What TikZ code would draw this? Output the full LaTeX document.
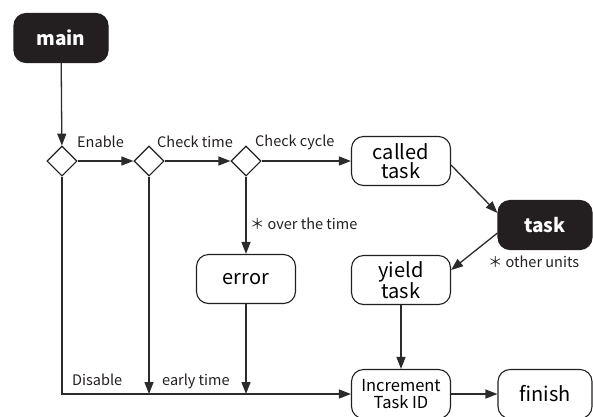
\documentclass[tikz,border=0pt]{standalone}
\usepackage{fontspec}
\setmainfont{Noto Sans CJK JP}
\usetikzlibrary{arrows.meta,shapes.geometric,calc}
\definecolor{ink}{HTML}{231F20}
\definecolor{wire}{HTML}{2B2B2B}
\begin{document}
\begin{tikzpicture}[x=1pt,y=-1pt,
  box/.style={draw=ink, line width=1.1pt, rounded corners=12pt, minimum width=99pt,
    minimum height=49pt, align=center, inner sep=2pt,
    font=\fontsize{20}{19}\selectfont},
  darkbox/.style={box, fill=ink, text=white, minimum width=94pt,
    font=\fontsize{19}{19}\selectfont\bfseries},
  decision/.style={diamond, draw=ink, line width=1.1pt, minimum width=30pt,
    minimum height=30pt, inner sep=0pt},
  lbl/.style={font=\fontsize{14.5}{14}\selectfont, inner sep=0pt, text=ink},
  arr/.style={draw=wire, line width=1.3pt, -{Triangle[length=12pt,width=9pt]}}
]
\useasboundingbox (0,0) rectangle (593,416);

% nodes
\node[darkbox] (main) at (61,38) {main};
\node[decision] (d1) at (62,161) {};
\node[decision] (d2) at (149,161) {};
\node[decision] (d3) at (246,161) {};
\node[box] (called) at (401,161) {called\\task};
\node[darkbox] (task) at (545,225) {task};
\node[box] (yield) at (401,280) {yield\\task};
\node[box] (error) at (246,279) {error};
\node[box, font=\fontsize{16.5}{17}\selectfont] (incr) at (401,394) {Increment\\Task ID};
\node[box, minimum width=94pt] (finish) at (545,394) {finish};

\coordinate (j2) at (149,394);
\coordinate (j3) at (246,394);

% labels
\node[lbl, anchor=base west] (lenable) at (77,147.5) {Enable};
\node[lbl, anchor=base west] (ltime) at (157,147) {Check time};
\node[lbl, anchor=base west] (lcycle) at (255,146) {Check cycle};
\node[lbl, anchor=base west] (lover) at (250,229) {＊\hspace{3pt}over the time};
\node[lbl, anchor=base west] (lother) at (488,267) {＊\hspace{3pt}other units};
\node[lbl, anchor=base west] (ldis) at (72,385) {Disable};
\node[lbl, anchor=base west] (learly) at (162,385) {early time};

% connectors
\draw[arr] (main) -- (d1);
\draw[arr] (d1) -- (d2);
\draw[arr] (d2) -- (d3);
\draw[arr] (d3) -- (called);
\draw[arr] (d3) -- (error);
\draw[arr] ($(called.east)+(0,4)$) -- ($(task.west)+(0,-12)$);
\draw[arr] ($(task.west)+(0,8)$) -- ($(yield.east)+(0,-10)$);
\draw[arr] (yield) -- (incr);
\draw[arr] (incr) -- (finish);
\draw[arr] (d1) |- (incr);
\draw[arr] (d2) -- (j2);
\draw[arr] (error) -- (j3);
\end{tikzpicture}
\end{document}
